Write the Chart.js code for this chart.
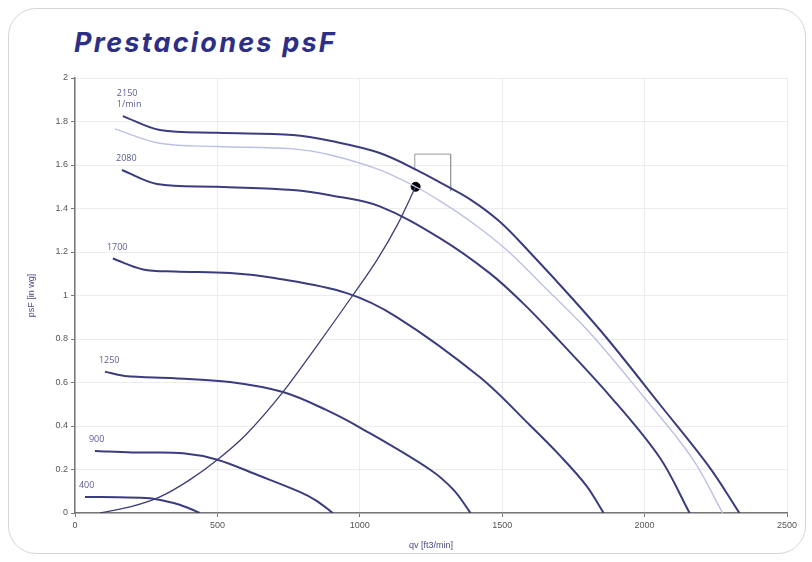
<!DOCTYPE html>
<html lang="es">
<head>
  <meta charset="utf-8">
  <title>Prestaciones psF</title>
  <script src="https://cdn.jsdelivr.net/npm/chart.js@4.4.0/dist/chart.umd.min.js"></script>
  <style>
    * { box-sizing: border-box; }
    body { margin: 0; width: 812px; height: 562px; background: #fff; position: relative; overflow: hidden; font-family: "Open Sans", sans-serif; }
    .card { position: absolute; left: 8px; top: 8px; width: 798px; height: 546px; border: 1.5px solid #d6d6d6; border-radius: 28px; background: #fff; }
    h1 { position: absolute; left: 74px; top: 27px; margin: 0; font-family: Inter, sans-serif; font-size: 27px; line-height: 32px; font-weight: 700; font-style: italic; color: #2d2f86; letter-spacing: 2.2px; }
    #chart { position: absolute; left: 0; top: 0; }
  </style>
</head>
<body>
  <div class="card"></div>
  <h1>Prestaciones psF</h1>
  <canvas id="chart" width="812" height="562"></canvas>

  <script>
    // curvas de ventilador [qv ft3/min, psF in wg]
    const curve2150 = [[168,1.825],[298,1.761],[500,1.748],[765,1.738],[900,1.71],[1070,1.655],[1221,1.563],[1281,1.52],[1390,1.44],[1491,1.34],[1596,1.20],[1747,0.985],[1870,0.80],[2053,0.50],[2228,0.21],[2333,0]];
    const curveMax  = [[140,1.766],[298,1.70],[500,1.685],[765,1.674],[900,1.645],[1070,1.578],[1196,1.50],[1281,1.435],[1400,1.33],[1516,1.209],[1632,1.06],[1807,0.83],[1993,0.54],[2168,0.25],[2274,0]];
    const curve2080 = [[165,1.577],[288,1.513],[500,1.50],[765,1.485],[900,1.46],[1070,1.41],[1281,1.264],[1456,1.103],[1572,0.966],[1691,0.805],[1877,0.54],[2053,0.255],[2158,0]];
    const curve1700 = [[133,1.17],[239,1.12],[350,1.11],[544,1.103],[700,1.08],[954,1.011],[1130,0.901],[1421,0.625],[1600,0.40],[1702,0.265],[1796,0.125],[1856,0]];
    const curve1250 = [[105,0.65],[175,0.63],[350,0.62],[544,0.602],[730,0.556],[880,0.475],[1011,0.385],[1246,0.2],[1330,0.105],[1389,0]];
    const curve900  = [[70,0.285],[200,0.278],[379,0.275],[500,0.245],[650,0.17],[789,0.097],[850,0.055],[905,0]];
    const curve400  = [[35,0.074],[150,0.072],[263,0.068],[350,0.045],[400,0.022],[439,0]];
    const systemCurve = [[88,0],[200,0.03],[300,0.075],[400,0.15],[500,0.245],[600,0.36],[730,0.556],[850,0.77],[975,1.0],[1060,1.163],[1130,1.32],[1196,1.50]];
    const workPoint = [[1196,1.50]];
    const workBox = [[1193,1.575],[1193,1.65],[1319,1.65],[1319,1.48]];

    const speedCurves = [curve2150, curve2080, curve1700, curve1250, curve900, curve400];
    const speedLabels = [['2150', '1/min'], ['2080'], ['1700'], ['1250'], ['900'], ['400']];

    const xTicks = [0, 500, 1000, 1500, 2000, 2500];
    const yTicks = [0, 0.2, 0.4, 0.6, 0.8, 1, 1.2, 1.4, 1.6, 1.8, 2];

    const navy = '#3b3c7e';
    const toXY = (arr) => arr.map(([x, y]) => ({ x, y }));

    const datasets = [
      { data: toXY(curveMax), borderColor: '#bcc0e4', borderWidth: 1.4 },
      ...speedCurves.map((c) => ({ data: toXY(c), borderColor: navy, borderWidth: 2 })),
      { data: toXY(systemCurve), borderColor: '#3d3e74', borderWidth: 1.3 },
      { data: toXY(workBox), borderColor: '#9a9a9a', borderWidth: 1, tension: 0 },
      { data: toXY(workPoint), showLine: false, pointRadius: 4.5, pointBackgroundColor: '#000', pointBorderColor: '#000' }
    ].map((d) => Object.assign({ pointRadius: 0, fill: false, tension: 0.35 }, d));

    // etiquetas de rpm junto al inicio de cada curva
    const curveLabelsPlugin = {
      id: 'curveLabels',
      afterDatasetsDraw(chart) {
        const { ctx, scales: { x, y } } = chart;
        ctx.save();
        ctx.font = '9px "Open Sans", sans-serif';
        ctx.fillStyle = '#5b5c96';
        ctx.textBaseline = 'alphabetic';
        speedCurves.forEach((c, i) => {
          const px = x.getPixelForValue(c[0][0]) - 6;
          const py = y.getPixelForValue(c[0][1]);
          const lines = speedLabels[i];
          lines.forEach((t, j) => {
            ctx.fillText(t, px, py - 9 - (lines.length - 1 - j) * 11);
          });
        });
        ctx.restore();
      }
    };

    new Chart(document.getElementById('chart'), {
      type: 'line',
      data: { datasets },
      plugins: [curveLabelsPlugin],
      options: {
        responsive: false,
        animation: false,
        layout: { padding: { left: 0, top: 78, right: 25, bottom: 0 } },
        plugins: { legend: { display: false }, tooltip: { enabled: false } },
        scales: {
          x: {
            type: 'linear', min: 0, max: 2500,
            afterBuildTicks: (s) => { s.ticks = xTicks.map((v) => ({ value: v })); },
            afterFit: (s) => { s.height = 49; },
            ticks: { color: '#555', font: { size: 9 }, padding: 3, callback: (v) => String(v) },
            grid: { color: '#ececec', tickLength: 4, tickColor: '#777' },
            border: { color: '#777', width: 1.5 },
            title: { display: true, text: 'qv [ft3/min]', color: '#4a4b86', font: { size: 9 }, padding: { top: 0, bottom: 11 } }
          },
          y: {
            type: 'linear', min: 0, max: 2,
            afterBuildTicks: (s) => { s.ticks = yTicks.map((v) => ({ value: v })); },
            afterFit: (s) => { s.width = 75; },
            ticks: { color: '#555', font: { size: 9 }, padding: 3, callback: (v) => String(+v.toFixed(1)) },
            grid: { color: '#ececec', tickLength: 4, tickColor: '#777' },
            border: { color: '#777', width: 1.5 },
            title: { display: true, text: 'psF [in wg]', color: '#4a4b86', font: { size: 9 }, padding: { top: 26, bottom: 0 } }
          }
        }
      }
    });
  </script>
</body>
</html>
